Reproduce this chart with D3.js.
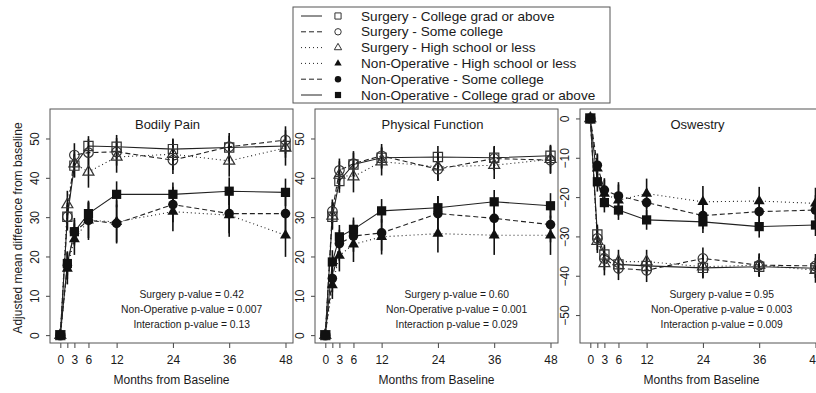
<!DOCTYPE html>
<html>
<head>
<meta charset="utf-8">
<script src="https://cdn.jsdelivr.net/npm/d3@7"></script>
<style>
  body { margin: 0; background: #fff; }
  svg { display: block; font-family: "Liberation Sans", Arial, sans-serif; }
  text { fill: #1a1a1a; }
</style>
</head>
<body>
<script>
// months from baseline (6 weeks = 1.5)
const months = [0, 1.5, 3, 6, 12, 24, 36, 48];
const tickMonths = [0, 1.5, 3, 6, 12, 24, 36, 48];
const tickLabels = ['0', '', '3', '6', '12', '24', '36', '48'];

const groupLabels = [
  'Surgery - College grad or above',
  'Surgery - Some college',
  'Surgery - High school or less',
  'Non-Operative - High school or less',
  'Non-Operative - Some college',
  'Non-Operative - College grad or above'
];

// Bodily Pain
const bpSurgCol  = [0, 30.1, 43.1, 48.1, 47.9, 47.3, 47.7, 48.1];
const bpSurgSome = [0, 30.1, 45.8, 46.4, 46.6, 44.5, 47.9, 49.6];
const bpSurgHS   = [0, 33.2, 43.6, 41.5, 45.3, 46.0, 44.3, 47.6];
const bpNonHS    = [0, 16.9, 24.4, 29.2, 28.8, 31.4, 30.5, 25.4];
const bpNonSome  = [0, 17.8, 26.3, 29.2, 28.4, 33.2, 30.9, 30.9];
const bpNonCol   = [0, 18.2, 26.3, 30.9, 35.8, 35.8, 36.6, 36.3];
const bpSurgColCI  = [0, 3, 3, 2.5, 3, 2.5, 3, 3];
const bpSurgSomeCI = [0, 3.5, 3, 3.5, 3.5, 3.5, 3.5, 3.5];
const bpSurgHSCI   = [0, 3.5, 3.5, 4, 4, 4, 4, 4.5];
const bpNonHSCI    = [0, 4, 4, 5, 5.5, 5, 5.5, 5.5];
const bpNonSomeCI  = [0, 3.5, 3.5, 4.5, 4.8, 4.5, 5, 5];
const bpNonColCI   = [0, 3, 3, 3, 3.3, 3, 3.5, 3.5];

// Physical Function
const pfSurgCol  = [0, 30.1, 39.2, 43.4, 45.1, 45.3, 45.1, 45.6];
const pfSurgSome = [0, 31.5, 41.9, 43.6, 45.6, 42.2, 44.9, 44.5];
const pfSurgHS   = [0, 30.3, 40.7, 40.3, 44.1, 42.8, 43.2, 44.7];
const pfNonHS    = [0, 12.7, 20.2, 23.1, 25.0, 25.8, 25.4, 25.4];
const pfNonSome  = [0, 14.4, 23.3, 25.2, 26.0, 30.9, 29.7, 28.1];
const pfNonCol   = [0, 18.6, 25.0, 26.9, 31.6, 32.4, 33.9, 32.9];
const pfSurgColCI  = [0, 3, 3, 3, 2.8, 2.8, 3, 2.8];
const pfSurgSomeCI = [0, 3, 3, 3.2, 3, 3, 3, 3.5];
const pfSurgHSCI   = [0, 3.5, 3.5, 4, 3.5, 3.5, 3.5, 3.5];
const pfNonHSCI    = [0, 3.5, 4, 4.5, 4.5, 4.8, 5, 5];
const pfNonSomeCI  = [0, 3.5, 3.5, 4, 4.5, 4.5, 4.5, 4.5];
const pfNonColCI   = [0, 3, 3, 3, 3, 3, 3, 3.2];

// Oswestry
const odiSurgCol  = [0, -29.5, -34.6, -37.1, -37.5, -38.0, -37.7, -38.1];
const odiSurgSome = [0, -30.5, -35.6, -38.1, -38.6, -35.6, -37.3, -37.5];
const odiSurgHS   = [0, -31.2, -36.9, -36.4, -36.4, -37.7, -37.3, -38.6];
const odiNonHS    = [0, -12.7, -19.1, -20.8, -19.1, -21.2, -21.0, -21.6];
const odiNonSome  = [0, -11.9, -18.2, -19.7, -21.4, -24.7, -23.7, -23.3];
const odiNonCol   = [0, -16.1, -21.4, -23.3, -25.8, -26.3, -27.5, -27.1];
const odiSurgColCI  = [0, 2.5, 2.5, 2.5, 2.5, 2.5, 2.5, 2.5];
const odiSurgSomeCI = [0, 3, 3, 3, 3, 2.8, 2.8, 3];
const odiSurgHSCI   = [0, 3, 3, 3, 3, 3, 3, 3.2];
const odiNonHSCI    = [0, 3.5, 3.5, 4, 3.8, 4, 3.6, 4];
const odiNonSomeCI  = [0, 3, 3, 3.5, 3.5, 3.5, 3.5, 3.8];
const odiNonColCI   = [0, 2.5, 2.5, 2.5, 2.5, 2.8, 2.8, 2.8];

const bpPvals  = ['Surgery p-value = 0.42', 'Non-Operative p-value = 0.007', 'Interaction p-value = 0.13'];
const pfPvals  = ['Surgery p-value = 0.60', 'Non-Operative p-value = 0.001', 'Interaction p-value = 0.029'];
const odiPvals = ['Surgery p-value = 0.95', 'Non-Operative p-value = 0.003', 'Interaction p-value = 0.009'];

const posTicks = [0, 10, 20, 30, 40, 50];
const negTicks = [0, -10, -20, -30, -40, -50];

// styling per group (same order as groupLabels)
const styles = [
  {dash: null,  shape: d3.symbolSquare,   filled: false},
  {dash: '5,3', shape: d3.symbolCircle,   filled: false},
  {dash: '1,3', shape: d3.symbolTriangle, filled: false},
  {dash: '1,3', shape: d3.symbolTriangle, filled: true},
  {dash: '5,3', shape: d3.symbolCircle,   filled: true},
  {dash: null,  shape: d3.symbolSquare,   filled: true}
];
const symSize = s => s === d3.symbolSquare ? 85 : s === d3.symbolCircle ? 72 : 52;

const panels = [
  {title: 'Bodily Pain', x0: 50, yDomain: [-2.0, 57.5], yTicks: posTicks, pvals: bpPvals,
   vals: [bpSurgCol, bpSurgSome, bpSurgHS, bpNonHS, bpNonSome, bpNonCol],
   ci: [bpSurgColCI, bpSurgSomeCI, bpSurgHSCI, bpNonHSCI, bpNonSomeCI, bpNonColCI]},
  {title: 'Physical Function', x0: 315, yDomain: [-2.0, 57.5], yTicks: posTicks, pvals: pfPvals,
   vals: [pfSurgCol, pfSurgSome, pfSurgHS, pfNonHS, pfNonSome, pfNonCol],
   ci: [pfSurgColCI, pfSurgSomeCI, pfSurgHSCI, pfNonHSCI, pfNonSomeCI, pfNonColCI]},
  {title: 'Oswestry', x0: 580, yDomain: [-57.1, 2.4], yTicks: negTicks, pvals: odiPvals,
   vals: [odiSurgCol, odiSurgSome, odiSurgHS, odiNonHS, odiNonSome, odiNonCol],
   ci: [odiSurgColCI, odiSurgSomeCI, odiSurgHSCI, odiNonHSCI, odiNonSomeCI, odiNonColCI]}
];

const W = 816, H = 393;
const pw = 243, plotTop = 109, plotBottom = 343;
const ink = '#222';

const svg = d3.select('body').append('svg').attr('width', W).attr('height', H);

panels.forEach((p, pi) => {
  const x = d3.scaleLinear().domain([-2.2, 49.6]).range([p.x0, p.x0 + pw]);
  const y = d3.scaleLinear().domain(p.yDomain).range([plotBottom, plotTop]);
  const g = svg.append('g').classed('panel', true);

  g.append('clipPath').attr('id', 'clip' + pi)
    .append('rect').attr('x', p.x0).attr('y', plotTop).attr('width', pw).attr('height', plotBottom - plotTop);

  // x axis
  const xAxis = d3.axisBottom(x).tickValues(tickMonths)
    .tickFormat((d, i) => tickLabels[i]).tickSize(5).tickSizeOuter(0).tickPadding(7);
  const xg = g.append('g').attr('transform', `translate(0,${plotBottom})`).call(xAxis);
  xg.select('.domain').remove();
  xg.selectAll('line').attr('stroke', '#444');
  xg.selectAll('text').attr('font-size', 12).attr('font-family', null).attr('fill', ink);

  // y axis
  const yAxis = d3.axisLeft(y).tickValues(p.yTicks).tickSize(4).tickSizeOuter(0);
  const yg = g.append('g').attr('transform', `translate(${p.x0},0)`).call(yAxis);
  yg.select('.domain').remove();
  yg.selectAll('line').attr('stroke', '#444');
  yg.selectAll('text').attr('x', null).attr('dy', null)
    .attr('text-anchor', 'middle').attr('dominant-baseline', 'central')
    .attr('transform', 'translate(-15,0) rotate(-90)')
    .attr('font-size', 12).attr('font-family', null).attr('fill', ink);

  const plot = g.append('g').attr('clip-path', `url(#clip${pi})`);

  // lines
  const line = d3.line().x((d, i) => x(months[i])).y(d => y(d));
  p.vals.forEach((v, k) => {
    plot.append('path').datum(v).attr('d', line)
      .attr('fill', 'none').attr('stroke', ink).attr('stroke-width', 1.1)
      .attr('stroke-dasharray', styles[k].dash);
  });

  // error bars (no caps)
  p.vals.forEach((v, k) => {
    plot.selectAll(null).data(v.map((d, i) => ({m: months[i], v: d, c: p.ci[k][i]})).filter(d => d.c > 0))
      .enter().append('line')
      .attr('x1', d => x(d.m)).attr('x2', d => x(d.m))
      .attr('y1', d => y(d.v - d.c)).attr('y2', d => y(d.v + d.c))
      .attr('stroke', '#111').attr('stroke-width', 1.6);
  });

  // markers
  p.vals.forEach((v, k) => {
    const st = styles[k];
    plot.selectAll(null).data(v).enter().append('path')
      .attr('d', d3.symbol().type(st.shape).size(symSize(st.shape)))
      .attr('transform', (d, i) => `translate(${x(months[i])},${y(d)})`)
      .attr('fill', st.filled ? '#111' : 'none')
      .attr('stroke', st.filled ? 'none' : '#333')
      .attr('stroke-width', 1.2);
  });

  // box
  g.append('rect').attr('x', p.x0).attr('y', plotTop).attr('width', pw).attr('height', plotBottom - plotTop)
    .attr('fill', 'none').attr('stroke', '#555').attr('stroke-width', 1);

  // title
  g.append('text').attr('x', p.x0 + pw / 2 - 4).attr('y', 124)
    .attr('text-anchor', 'middle').attr('dominant-baseline', 'central')
    .attr('font-size', 13).text(p.title);

  // p-values
  p.pvals.forEach((t, i) => {
    g.append('text').attr('x', x(28)).attr('y', 294.5 + i * 15)
      .attr('text-anchor', 'middle').attr('dominant-baseline', 'central')
      .attr('font-size', 10.3).text(t);
  });

  // x title
  g.append('text').attr('x', p.x0 + pw / 2).attr('y', 380)
    .attr('text-anchor', 'middle').attr('dominant-baseline', 'central')
    .attr('font-size', 12).text('Months from Baseline');
});

// y title
svg.append('text').attr('transform', 'translate(18,228) rotate(-90)')
  .attr('text-anchor', 'middle').attr('dominant-baseline', 'central')
  .attr('font-size', 12).text('Adjusted mean difference from baseline');

// legend
const lg = svg.append('g').classed('legend', true);
lg.append('rect').attr('x', 293).attr('y', 7).attr('width', 317).attr('height', 96)
  .attr('fill', '#fff').attr('stroke', '#555').attr('stroke-width', 1);
groupLabels.forEach((lab, k) => {
  const yy = 16 + k * 15.8;
  const st = styles[k];
  lg.append('line').attr('x1', 301).attr('x2', 322).attr('y1', yy).attr('y2', yy)
    .attr('stroke', ink).attr('stroke-width', 1).attr('stroke-dasharray', st.dash);
  lg.append('path')
    .attr('d', d3.symbol().type(st.shape).size(symSize(st.shape) * 0.45))
    .attr('transform', `translate(338,${yy})`)
    .attr('fill', st.filled ? '#111' : 'none')
    .attr('stroke', st.filled ? 'none' : '#333').attr('stroke-width', 1);
  lg.append('text').attr('x', 361).attr('y', yy).attr('dominant-baseline', 'central')
    .attr('font-size', 13.6).text(lab);
});
</script>
</body>
</html>
